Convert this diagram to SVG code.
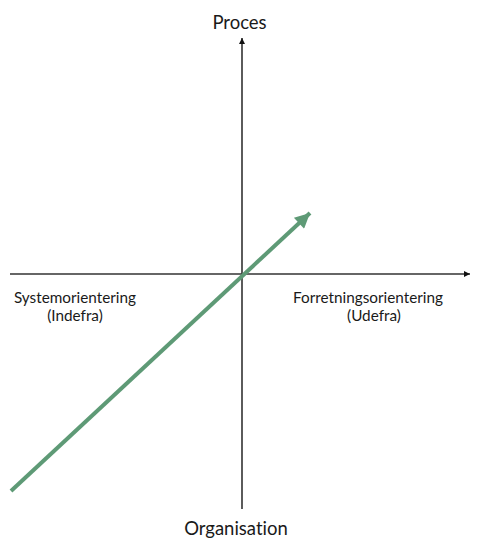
<svg xmlns="http://www.w3.org/2000/svg" width="479" height="540" viewBox="0 0 479 540">
<style>
text { font-family: Lato, "Noto Sans", sans-serif; fill: #1a1a1a; font-variant-ligatures: none; }
.axis { stroke: #333; stroke-width: 1.6; fill: none; }
.big { font-size: 18.5px; }
.small { font-size: 15.3px; }
.green { stroke: #5e9a76; stroke-width: 4; fill: none; }
</style>
<defs>
<marker id="ah" viewBox="0 0 10 10" refX="10" refY="5" markerWidth="6" markerHeight="8" markerUnits="userSpaceOnUse" orient="auto"><path d="M0,0 L10,5 L0,10 z" fill="#111"/></marker>
<marker id="gh" viewBox="0 0 10 10" refX="10" refY="5" markerWidth="18" markerHeight="15" markerUnits="userSpaceOnUse" orient="auto"><path d="M0,0 L10,5 L0,10 z" fill="#5e9a76"/></marker>
</defs>
<g id="connectors">
<line class="axis" x1="242" y1="509" x2="242" y2="38" marker-end="url(#ah)"/>
<line class="axis" x1="10" y1="274" x2="470" y2="274" marker-end="url(#ah)"/>
<line class="green" x1="11" y1="491" x2="310" y2="213" marker-end="url(#gh)"/>
</g>
<g id="proces"><text class="big" x="239.5" y="29" text-anchor="middle">Proces</text></g>
<g id="organisation"><text class="big" x="236" y="535" text-anchor="middle">Organisation</text></g>
<g id="system"><text class="small" x="75" y="303" text-anchor="middle">Systemorientering</text><text class="small" x="75" y="321" text-anchor="middle">(Indefra)</text></g>
<g id="forretning"><text class="small" x="368" y="303" text-anchor="middle">Forretningsorientering</text><text class="small" x="374" y="321" text-anchor="middle">(Udefra)</text></g>
</svg>
